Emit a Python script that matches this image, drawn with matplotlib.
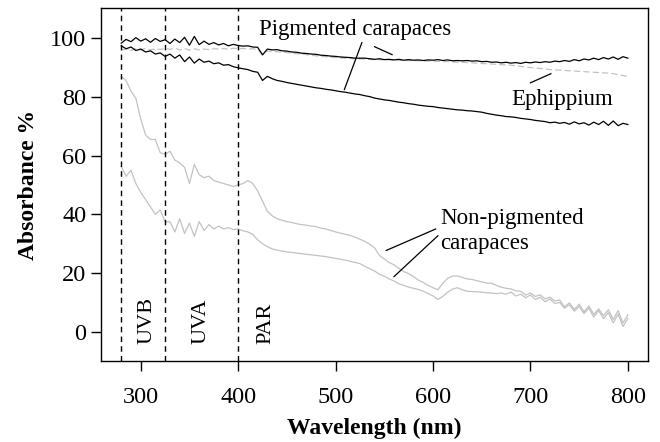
import numpy as np
import matplotlib.pyplot as plt

plt.rcParams['font.family'] = ['Liberation Serif', 'DejaVu Serif']

# wavelength grid (nm), 5 nm steps
wl = np.arange(280, 801, 5)

# pigmented carapaces (black)
pig_hi = [
    98.3, 99.6, 98.8, 100.2, 99.0, 99.8, 98.6, 99.9, 98.9, 99.5,
    98.2, 99.7, 98.5, 100.3, 97.6, 100.6, 97.8, 99.0, 97.9, 98.5,
    97.7, 98.2, 97.4, 97.9, 97.5, 97.3, 97.4, 97.0, 96.9, 94.3,
    96.3, 96.0, 96.1, 95.7, 95.6, 95.3, 95.2, 94.9, 94.8, 94.6,
    94.5, 94.2, 94.1, 93.9, 93.8, 93.6, 93.5, 93.4, 93.2, 93.2,
    93.2, 93.0, 92.8, 93.0, 92.7, 92.8, 92.6, 92.8, 92.5, 92.7,
    92.5, 92.6, 92.4, 92.6, 92.5, 92.7, 92.4, 92.6, 92.3, 92.4,
    92.3, 92.4, 92.2, 92.3, 92.0, 92.1, 91.8, 91.9, 91.6, 91.8,
    91.5, 91.7, 91.4, 91.8, 91.6, 91.9, 91.7, 92.0, 91.8, 92.2,
    92.0, 92.4, 92.1, 92.7, 92.3, 92.9, 92.6, 93.2, 92.7, 93.4,
    92.9, 93.6, 92.8, 93.7, 93.2,
]
pig_lo = [
    97.4, 96.4, 97.0, 95.8, 96.3, 95.3, 95.7, 94.6, 95.0, 93.8,
    94.6, 93.2, 94.3, 92.0, 93.6, 91.5, 92.9, 91.8, 92.2, 91.3,
    91.6, 90.8, 91.0, 90.3, 89.9, 89.6, 89.3, 88.7, 88.4, 85.6,
    87.0, 86.2, 85.6, 85.3, 84.9, 84.6, 84.3, 84.0, 83.7, 83.4,
    83.1, 82.9, 82.6, 82.4, 82.1, 81.8, 81.6, 81.3, 81.0, 80.8,
    80.4, 80.1, 79.6, 79.3, 79.0, 78.8, 78.5, 78.2, 78.0, 77.7,
    77.5, 77.2, 77.0, 76.8, 76.7, 76.4, 76.2, 76.0, 75.8, 75.6,
    75.5, 75.3, 75.2, 75.0, 74.8, 74.4, 74.1, 73.8, 73.6, 73.3,
    73.2, 73.0, 72.7, 72.5, 72.3, 72.0, 71.8, 71.6, 71.2, 71.4,
    71.0, 71.3, 70.7, 71.5, 70.8, 71.2, 70.4, 71.4, 70.6, 71.7,
    70.3, 71.8, 70.2, 71.0, 70.6,
]

# ephippium (grey dashed)
ephippium = [
    96.0, 96.3, 95.8, 96.4, 96.1, 96.5, 96.0, 96.4, 96.2, 96.5,
    96.2, 96.6, 96.0, 96.5, 95.9, 96.4, 96.0, 96.3, 96.1, 96.4,
    96.3, 96.5, 96.2, 96.6, 96.4, 96.5, 96.3, 96.4, 96.1, 94.6,
    95.6, 95.5, 95.4, 95.2, 95.1, 94.9, 94.7, 94.6, 94.4, 94.2,
    94.0, 93.8, 93.7, 93.5, 93.4, 93.3, 93.2, 93.1, 93.0, 92.9,
    92.9, 92.8, 92.7, 92.7, 92.6, 92.6, 92.5, 92.5, 92.4, 92.4,
    92.3, 92.3, 92.2, 92.2, 92.1, 92.1, 92.0, 92.0, 91.9, 91.8,
    91.8, 91.7, 91.6, 91.5, 91.4, 91.3, 91.2, 91.1, 91.0, 90.9,
    90.8, 90.6, 90.4, 90.2, 90.0, 89.8, 89.7, 89.5, 89.3, 89.2,
    89.1, 89.0, 88.9, 88.8, 88.7, 88.6, 88.5, 88.4, 88.3, 88.2,
    88.1, 87.9, 87.6, 87.3, 87.0,
]

# non-pigmented carapaces (grey)
np_hi = [
    87.0, 85.5, 82.0, 79.5, 72.5, 67.0, 65.5, 65.5, 61.0, 60.5,
    61.5, 58.5, 57.5, 56.0, 50.5, 57.0, 53.5, 52.5, 53.0, 51.5,
    51.0, 50.5, 50.0, 49.5, 50.0, 50.5, 51.5, 50.5, 48.0, 44.5,
    41.0, 39.5, 38.5, 38.0, 37.5, 37.2, 36.8, 36.5, 36.3, 36.0,
    35.8, 35.3, 35.0, 34.5, 34.0, 33.6, 33.2, 32.8, 32.2, 31.5,
    30.8, 29.8, 28.6, 26.0, 24.8, 23.6, 22.8, 21.6, 20.5, 19.8,
    18.8, 17.6, 16.8, 15.8, 15.0, 14.3, 16.5, 18.2, 19.0, 19.0,
    18.5, 18.0, 17.8, 17.4, 17.0, 16.6, 16.5, 15.8, 15.2, 14.8,
    14.6, 14.0, 13.8, 12.5, 13.2, 12.0, 12.6, 11.2, 11.8, 10.5,
    10.8, 8.5, 9.8, 7.6, 9.4, 6.8, 8.8, 5.9, 7.8, 5.5,
    7.5, 4.2, 7.2, 3.0, 5.8,
]
np_lo = [
    56.3, 53.0, 55.0, 50.5, 47.5, 45.0, 42.5, 40.0, 41.5, 37.5,
    37.5, 34.0, 38.5, 33.5, 37.0, 32.5, 37.5, 34.5, 36.5, 35.0,
    36.0, 35.0, 35.5, 34.8, 35.0, 34.4, 34.0, 33.2, 31.3, 30.0,
    29.0, 28.2, 27.8, 27.5, 27.2, 27.0, 26.8, 26.6, 26.4, 26.2,
    26.0, 25.8, 25.6, 25.3, 25.0, 24.7, 24.4, 24.0, 23.6, 23.2,
    22.3, 21.5, 20.7, 19.6, 18.9, 18.0, 17.3, 16.3, 15.8, 15.2,
    14.8, 14.4, 13.8, 13.0, 12.2, 11.0, 12.0, 13.5, 14.5, 15.0,
    14.3, 13.8, 13.7, 13.6, 13.5, 13.3, 13.2, 13.0, 13.2, 12.8,
    13.5, 12.2, 12.8, 11.6, 12.5, 11.0, 11.8, 10.2, 11.2, 9.6,
    10.0, 8.0, 9.2, 7.0, 8.6, 6.2, 8.0, 5.0, 7.2, 4.5,
    6.5, 3.0, 6.0, 1.8, 4.5,
]

bands = [280, 325, 400]
band_names = ['UVB', 'UVA', 'PAR']
band_x = [306, 362, 428]

fig = plt.figure(figsize=(6.6, 4.42), dpi=100)
ax = fig.add_axes([0.153, 0.183, 0.829, 0.799])

grey = '#c2c2c2'
ax.plot(wl, np_hi, color=grey, lw=0.9)
ax.plot(wl, np_lo, color=grey, lw=0.9)
ax.plot(wl, ephippium, color=grey, lw=0.9, dashes=(5, 2.5))
ax.plot(wl, pig_hi, color='black', lw=0.9)
ax.plot(wl, pig_lo, color='black', lw=0.9)

for b in bands:
    ax.axvline(b, color='black', lw=1, dashes=(4, 3))
for name, x in zip(band_names, band_x):
    ax.text(x, -4, name, rotation=90, ha='center', va='bottom', fontsize=16)

# labels and leader lines
ax.text(520, 103, 'Pigmented carapaces', ha='center', va='center', fontsize=16.5)
ax.plot([527, 509], [98.5, 82.5], color='black', lw=0.9)
ax.plot([540, 558], [97.1, 94.4], color='black', lw=0.9)
ax.text(733, 79, 'Ephippium', ha='center', va='center', fontsize=16.5)
ax.plot([700, 721], [84.8, 87.9], color='black', lw=0.9)
ax.text(607, 34.4, 'Non-pigmented\ncarapaces', ha='left', va='center',
        fontsize=16.5, linespacing=1.25)
ax.plot([602.7, 552], [35.0, 27.7], color='black', lw=0.9)
ax.plot([605, 560], [32.7, 18.8], color='black', lw=0.9)

ax.set_xlim(259.2, 820.8)
ax.set_ylim(-10, 110.3)
ax.set_xticks([300, 400, 500, 600, 700, 800])
ax.set_yticks([0, 20, 40, 60, 80, 100])
ax.tick_params(direction='out', length=7.5, width=1, labelsize=17.5)
ax.tick_params(axis='x', pad=11)
ax.tick_params(axis='y', pad=3)
for s in ax.spines.values():
    s.set_linewidth(1)
ax.set_xlabel('Wavelength (nm)', fontsize=17, fontweight='bold', labelpad=7)
ax.set_ylabel('Absorbance %', fontsize=17, fontweight='bold', labelpad=8)

fig.savefig('out.png', dpi=100)
